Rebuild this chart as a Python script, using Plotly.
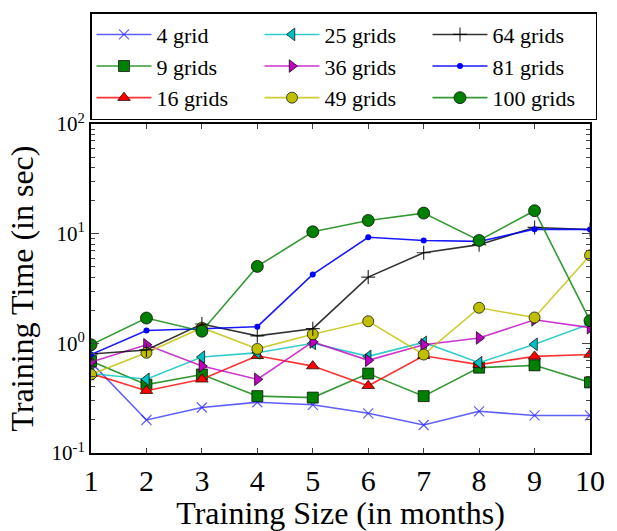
import plotly.graph_objects as go

months = [1, 2, 3, 4, 5, 6, 7, 8, 9, 10]
grid4 = [0.67, 0.20, 0.26, 0.29, 0.275, 0.23, 0.18, 0.24, 0.22, 0.22]
grid9 = [0.69, 0.42, 0.52, 0.33, 0.32, 0.53, 0.33, 0.60, 0.63, 0.44]
grid16 = [0.53, 0.37, 0.47, 0.77, 0.62, 0.41, 0.77, 0.64, 0.76, 0.79]
grid25 = [0.53, 0.47, 0.75, 0.82, 1.0, 0.76, 1.02, 0.665, 0.98, 1.50]
grid36 = [0.675, 0.97, 0.62, 0.47, 1.03, 0.70, 0.97, 1.12, 1.64, 1.39]
grid49 = [0.52, 0.82, 1.39, 0.89, 1.21, 1.59, 0.79, 2.11, 1.72, 6.35]
grid64 = [0.80, 0.87, 1.50, 1.17, 1.36, 4.02, 6.7, 7.94, 11.4, 10.9]
grid81 = [0.79, 1.31, 1.36, 1.42, 4.25, 9.27, 8.67, 8.5, 11.0, 10.9]
grid100 = [0.97, 1.70, 1.29, 5.03, 10.4, 13.2, 15.4, 8.67, 16.2, 1.61]

names = ["4 grid", "9 grids", "16 grids", "25 grids", "36 grids",
         "49 grids", "64 grids", "81 grids", "100 grids"]
series = [grid4, grid9, grid16, grid25, grid36, grid49, grid64, grid81, grid100]

styles = [
    dict(color="rgba(40,40,255,0.75)", symbol="x-thin", size=10, lw=0, mcol="rgba(40,40,255,0.75)"),
    dict(color="rgba(0,128,0,0.8)", symbol="square", size=11, lw=1, mcol="#008000"),
    dict(color="rgba(255,0,0,0.8)", symbol="triangle-up", size=11, lw=1, mcol="#ff0000"),
    dict(color="rgba(0,191,191,0.8)", symbol="triangle-left", size=11, lw=1, mcol="#00bfbf"),
    dict(color="rgba(191,0,191,0.8)", symbol="triangle-right", size=11, lw=1, mcol="#bf00bf"),
    dict(color="rgba(191,191,0,0.8)", symbol="circle", size=11, lw=1, mcol="#bfbf00"),
    dict(color="rgba(0,0,0,0.8)", symbol="cross-thin", size=10, lw=0, mcol="rgba(0,0,0,0.8)"),
    dict(color="rgba(0,0,255,0.9)", symbol="circle", size=6, lw=0, mcol="#0000ff"),
    dict(color="rgba(0,128,0,0.8)", symbol="circle", size=12, lw=1, mcol="#008000"),
]
# legend order row-major so entries read column-major like the reference
ranks = [1, 4, 7, 2, 5, 8, 3, 6, 9]

font_family = "Liberation Serif, serif"

fig = go.Figure()
for name, ys, st, rk in zip(names, series, styles, ranks):
    marker = dict(symbol=st["symbol"], size=st["size"], color=st["mcol"],
                  line=dict(color="rgba(0,0,0,0.7)", width=st["lw"]))
    if st["symbol"] in ("x-thin", "cross-thin"):
        marker["line"] = dict(color=st["mcol"], width=1.2)
    fig.add_trace(go.Scatter(x=months, y=ys, name=name, mode="lines+markers",
                             line=dict(color=st["color"], width=1.6),
                             marker=marker, legendrank=rk))

minor_vals = [m * 10 ** e for e in (-1, 0, 1) for m in range(2, 10)]

fig.update_layout(
    width=617, height=531,
    margin=dict(l=91, r=17, t=124, b=68),
    paper_bgcolor="white", plot_bgcolor="white",
    font=dict(family=font_family, color="black"),
    showlegend=True,
    legend=dict(orientation="h", x=-0.002, y=1.34, xanchor="left", yanchor="top",
                bordercolor="black", borderwidth=1.5, bgcolor="white",
                font=dict(size=22, family=font_family, color="black"),
                entrywidth=98, entrywidthmode="pixels",
                traceorder="normal", itemwidth=55),
    xaxis=dict(range=[1, 10], tickvals=months, ticks="inside", ticklen=5,
               showline=True, linecolor="black", linewidth=2, mirror="ticks",
               showgrid=False, zeroline=False,
               tickfont=dict(size=30, family=font_family),
               title=dict(text="Training Size (in months)",
                          font=dict(size=32, family=font_family), standoff=0)),
    yaxis=dict(type="log", range=[-1, 2], tickvals=[0.1, 1, 10, 100],
               ticktext=["10<sup>-1</sup>", "10<sup>0</sup>", "10<sup>1</sup>", "10<sup>2</sup>"],
               ticks="inside", ticklen=8, showline=True, linecolor="black", linewidth=2,
               mirror="ticks", showgrid=False, zeroline=False,
               tickfont=dict(size=21, family=font_family),
               minor=dict(tickvals=minor_vals, ticks="inside", ticklen=4, showgrid=False),
               title=dict(text="Training Time (in sec)",
                          font=dict(size=32, family=font_family), standoff=8)),
)

fig.write_html("out.html")
